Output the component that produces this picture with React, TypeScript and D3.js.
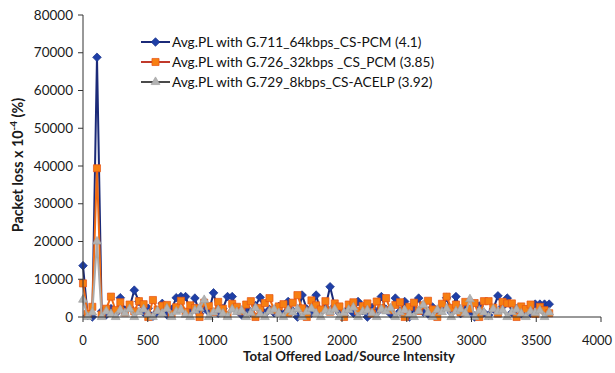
import * as d3 from 'd3';

const loads = [
  0, 36, 72, 108, 144, 180, 216, 252, 288, 324, 360, 396, 432, 468, 504, 540, 576, 612, 648, 684,
  720, 756, 792, 828, 864, 900, 936, 972, 1008, 1044, 1080, 1116, 1152, 1188, 1224, 1260, 1296, 1332, 1368, 1404,
  1440, 1476, 1512, 1548, 1584, 1620, 1656, 1692, 1728, 1764, 1800, 1836, 1872, 1908, 1944, 1980, 2016, 2052, 2088, 2124,
  2160, 2196, 2232, 2268, 2304, 2340, 2376, 2412, 2448, 2484, 2520, 2556, 2592, 2628, 2664, 2700, 2736, 2772, 2808, 2844,
  2880, 2916, 2952, 2988, 3024, 3060, 3096, 3132, 3168, 3204, 3240, 3276, 3312, 3348, 3384, 3420, 3456, 3492, 3528, 3564,
  3600,
];

const g711 = [
  13600, 400, 0, 68800, 1500, 600, 2200, 900, 5100, 1800, 2600, 7100, 4100, 1200, 2300, 200, 1500, 3600, 600, 2000,
  5100, 5400, 5400, 1700, 5000, 900, 2400, 1300, 6400, 1000, 2200, 5400, 5400, 1800, 600, 2500, 1200, 3000, 5200, 900,
  2000, 1100, 2800, 700, 4100, 1600, 0, 5800, 2100, 1000, 5800, 1400, 2600, 8000, 2900, 1100, 400, 2300, 1000, 4100,
  1700, 0, 2500, 1200, 5400, 2000, 800, 5000, 1500, 4100, 0, 2200, 5000, 1300, 800, 2600, 1000, 2000, 5100, 1200,
  5400, 900, 2400, 1500, 0, 2900, 1100, 500, 2100, 5600, 2800, 5000, 1200, 2300, 800, 1900, 1000, 3400, 3400, 3400,
  3400,
];

const g726 = [
  8900, 800, 2700, 39400, 600, 2200, 5400, 1800, 3900, 1200, 3300, 1500, 4200, 3400, 0, 4500, 1900, 3000, 3200, 800,
  2600, 4300, 1400, 3100, 2400, 0, 3800, 2900, 1300, 4000, 2200, 600, 3500, 2700, 1500, 3300, 4200, 0, 2400, 3700,
  5000, 1800, 2800, 3400, 1000, 3800, 5800, 2300, 0, 4400, 3100, 2000, 4200, 1400, 3600, 2800, 0, 3300, 3900, 1600,
  2900, 3600, 900, 4100, 2300, 5000, 1800, 3200, 3900, 0, 2700, 3800, 1600, 3100, 4300, 2000, 0, 3500, 5400, 2400,
  3300, 1200, 4000, 2200, 3700, 0, 4200, 4200, 2500, 900, 4000, 3600, 3600, 0, 2800, 2100, 3300, 800, 2700, 1800,
  1000,
];

const g729 = [
  4600, 0, 1200, 20000, 0, 1500, 800, 0, 1800, 1000, 2100, 0, 1300, 2000, 700, 0, 1600, 900, 2200, 0,
  1400, 1900, 600, 0, 1700, 2300, 4500, 0, 1200, 1800, 900, 0, 2000, 1300, 1700, 0, 1100, 2400, 800, 0,
  1500, 2000, 1000, 0, 1800, 1200, 2100, 0, 1400, 2200, 900, 0, 1700, 1300, 2000, 0, 1100, 1900, 2500, 0,
  1400, 1800, 1000, 0, 2000, 1500, 2300, 0, 1200, 1800, 700, 0, 1600, 3200, 1100, 0, 1900, 1300, 2200, 0,
  1500, 2000, 1000, 4700, 0, 1700, 1200, 0, 2100, 1400, 1800, 0, 1300, 2000, 900, 0, 1500, 1100, 1700, 0,
  1200,
];

const xTicks = [0, 500, 1000, 1500, 2000, 2500, 3000, 3500, 4000];
const yTicks = [0, 10000, 20000, 30000, 40000, 50000, 60000, 70000, 80000];

const legendLabels = [
  'Avg.PL with G.711_64kbps_CS-PCM (4.1)',
  'Avg.PL with G.726_32kbps _CS_PCM (3.85)',
  'Avg.PL with G.729_8kbps_CS-ACELP (3.92)',
];

const series = [
  { values: g711, line: '#1b2a78', fill: '#1f3fa6', stroke: '#17308a', shape: 'diamond' },
  { values: g726, line: '#f06a12', fill: '#f77f12', stroke: '#e55316', shape: 'square' },
  { values: g729, line: '#aaaaaa', fill: '#b3b3b3', stroke: '#a0a0a0', shape: 'triangle' },
];

const legendLine = ['#1b2a78', '#c0392b', '#4a4a4a'];

function markerPath(shape: string) {
  if (shape === 'diamond') return d3.symbol(d3.symbolDiamond2, 48)() || '';
  if (shape === 'square') return d3.symbol(d3.symbolSquare2, 64)() || '';
  return d3.symbol(d3.symbolTriangle2, 56)() || '';
}

export default function App() {
  const width = 615;
  const height = 373;
  const x = d3.scaleLinear().domain([0, 4000]).range([83, 601]);
  const y = d3.scaleLinear().domain([0, 80000]).range([317, 15]);
  const font = 'Lato, "Open Sans", sans-serif';

  const line = d3
    .line<number>()
    .x((_, i) => x(loads[i]))
    .y((v) => y(v));

  return (
    <svg width={width} height={height} style={{ position: 'absolute', left: 0, top: 0, background: '#fff' }}>
      {series.map((s, k) => (
        <g key={k}>
          <path d={line(s.values) || ''} fill="none" stroke={s.line} strokeWidth={2} />
          {s.values.map((v, i) => (
            <path
              key={i}
              d={markerPath(s.shape)}
              transform={`translate(${x(loads[i])},${y(v)})`}
              fill={s.fill}
              stroke={s.stroke}
              strokeWidth={0.7}
            />
          ))}
        </g>
      ))}

      <line x1={x(0)} x2={x(0)} y1={y(80000)} y2={y(0)} stroke="#333" strokeWidth={1} />
      <line x1={x(0)} x2={x(4000)} y1={y(0)} y2={y(0)} stroke="#333" strokeWidth={1} />
      {yTicks.map((t) => (
        <g key={t}>
          <line x1={x(0) - 5} x2={x(0)} y1={y(t)} y2={y(t)} stroke="#333" />
          <text x={73} y={y(t)} dy="0.35em" textAnchor="end" fontFamily={font} fontSize={13.5} fill="#1a1a1a">
            {t}
          </text>
        </g>
      ))}
      {xTicks.map((t) => (
        <g key={t}>
          <line x1={x(t)} x2={x(t)} y1={y(0)} y2={y(0) + 5} stroke="#333" />
          <text
            x={Math.min(x(t), 597)}
            y={340}
            dy="0.35em"
            textAnchor="middle"
            fontFamily={font}
            fontSize={13}
            fill="#1a1a1a"
          >
            {t}
          </text>
        </g>
      ))}

      <text x={349} y={356} dy="0.35em" textAnchor="middle" fontFamily={font} fontSize={13.3} fontWeight="bold" fill="#1a1a1a">
        Total Offered Load/Source Intensity
      </text>
      <text
        transform="translate(18,165) rotate(-90)"
        textAnchor="middle"
        dy="0.35em"
        fontFamily={font}
        fontSize={14.3}
        fontWeight="bold"
        fill="#1a1a1a"
      >
        Packet loss x 10
        <tspan dy="-6" fontSize={10}>-4</tspan>
        <tspan dy="6"> (%)</tspan>
      </text>

      {legendLabels.map((label, k) => {
        const ly = 42 + k * 20;
        return (
          <g key={label}>
            <line x1={141} x2={170} y1={ly} y2={ly} stroke={legendLine[k]} strokeWidth={2} />
            <path
              d={markerPath(series[k].shape)}
              transform={`translate(155.5,${ly})`}
              fill={series[k].fill}
              stroke={series[k].stroke}
              strokeWidth={0.7}
            />
            <text x={172} y={ly} dy="0.35em" fontFamily={font} fontSize={13.7} fill="#111">
              {label}
            </text>
          </g>
        );
      })}
    </svg>
  );
}
